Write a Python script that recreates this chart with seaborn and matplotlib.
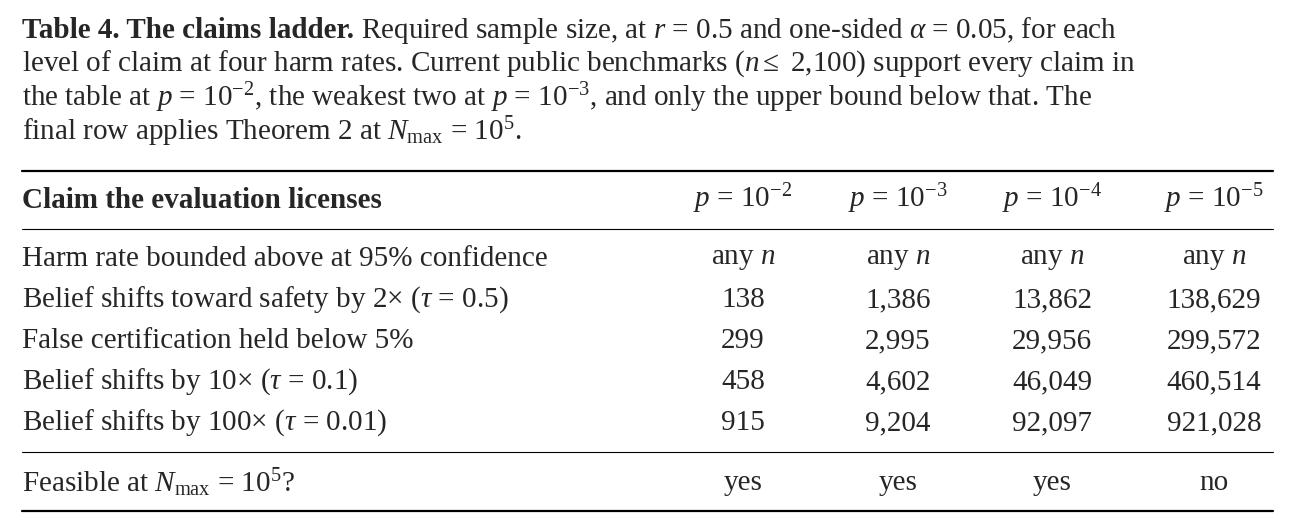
import matplotlib
matplotlib.use("Agg")
import matplotlib.pyplot as plt
import seaborn as sns

sns.set_theme(style="white")
plt.rcParams['font.family'] = ['Liberation Serif', 'DejaVu Serif']
plt.rcParams['mathtext.fontset'] = 'custom'
plt.rcParams['mathtext.rm'] = 'Liberation Serif'
plt.rcParams['mathtext.it'] = 'Liberation Serif:italic'
plt.rcParams['mathtext.bf'] = 'Liberation Serif:bold'

caption_bold = "Table 4. The claims ladder."
caption_lines = [
    r" Required sample size, at $r$ = 0.5 and one-sided $\alpha$ = 0.05, for each",
    r"level of claim at four harm rates. Current public benchmarks ($n \leq$ 2,100) support every claim in",
    r"the table at $p$ = 10$^{-2}$, the weakest two at $p$ = 10$^{-3}$, and only the upper bound below that. The",
    r"final row applies Theorem 2 at $N_{\max}$ = 10$^{5}$.",
]

header_label = "Claim the evaluation licenses"
harm_rates = [r"$p$ = 10$^{-2}$", r"$p$ = 10$^{-3}$", r"$p$ = 10$^{-4}$", r"$p$ = 10$^{-5}$"]
claims = [
    "Harm rate bounded above at 95% confidence",
    r"Belief shifts toward safety by 2$\times$ ($\tau$ = 0.5)",
    "False certification held below 5%",
    r"Belief shifts by 10$\times$ ($\tau$ = 0.1)",
    r"Belief shifts by 100$\times$ ($\tau$ = 0.01)",
]
col_p2 = [r"any $n$", "138", "299", "458", "915"]
col_p3 = [r"any $n$", "1,386", "2,995", "4,602", "9,204"]
col_p4 = [r"any $n$", "13,862", "29,956", "46,049", "92,097"]
col_p5 = [r"any $n$", "138,629", "299,572", "460,514", "921,028"]
feasible_label = r"Feasible at $N_{\max}$ = 10$^{5}$?"
feasible = ["yes", "yes", "yes", "no"]

fig = plt.figure(figsize=(12.95, 5.31), dpi=100)
ax = fig.add_axes([0, 0, 1, 1])
ax.set_xlim(0, 1295)
ax.set_ylim(531, 0)
ax.axis("off")

fs = 21
x0 = 22
# caption, bold lead-in then regular text
t = ax.text(x0, 30, caption_bold, fontsize=fs, fontweight="bold", va="center")
fig.canvas.draw()
bb = t.get_window_extent()
x_end = ax.transData.inverted().transform((bb.x1, bb.y0))[0]
ax.text(x_end, 30, caption_lines[0], fontsize=fs, va="center")
for i, line in enumerate(caption_lines[1:]):
    ax.text(x0, 64 + 34 * i, line, fontsize=fs, va="center")

# rules
ax.plot([x0, 1273], [171, 171], color="black", lw=1.6)
ax.plot([x0, 1273], [229, 229], color="black", lw=0.8)
ax.plot([x0, 1273], [452, 452], color="black", lw=0.8)
ax.plot([x0, 1273], [511, 511], color="black", lw=1.6)

col_x = [743, 898, 1052, 1214]
ax.text(x0, 201, header_label, fontsize=fs, fontweight="bold", va="center")
for x, h in zip(col_x, harm_rates):
    ax.text(x, 199, h, fontsize=fs, va="center", ha="center")

columns = [col_p2, col_p3, col_p4, col_p5]
for i, c in enumerate(claims):
    y = 259 + 41 * i
    ax.text(x0, y, c, fontsize=fs, va="center")
    for x, col in zip(col_x, columns):
        ax.text(x, y, col[i], fontsize=fs, va="center", ha="center")

ax.text(x0, 483, feasible_label, fontsize=fs, va="center")
for x, f in zip(col_x, feasible):
    ax.text(x, 483, f, fontsize=fs, va="center", ha="center")

fig.savefig("out.png", dpi=100)
